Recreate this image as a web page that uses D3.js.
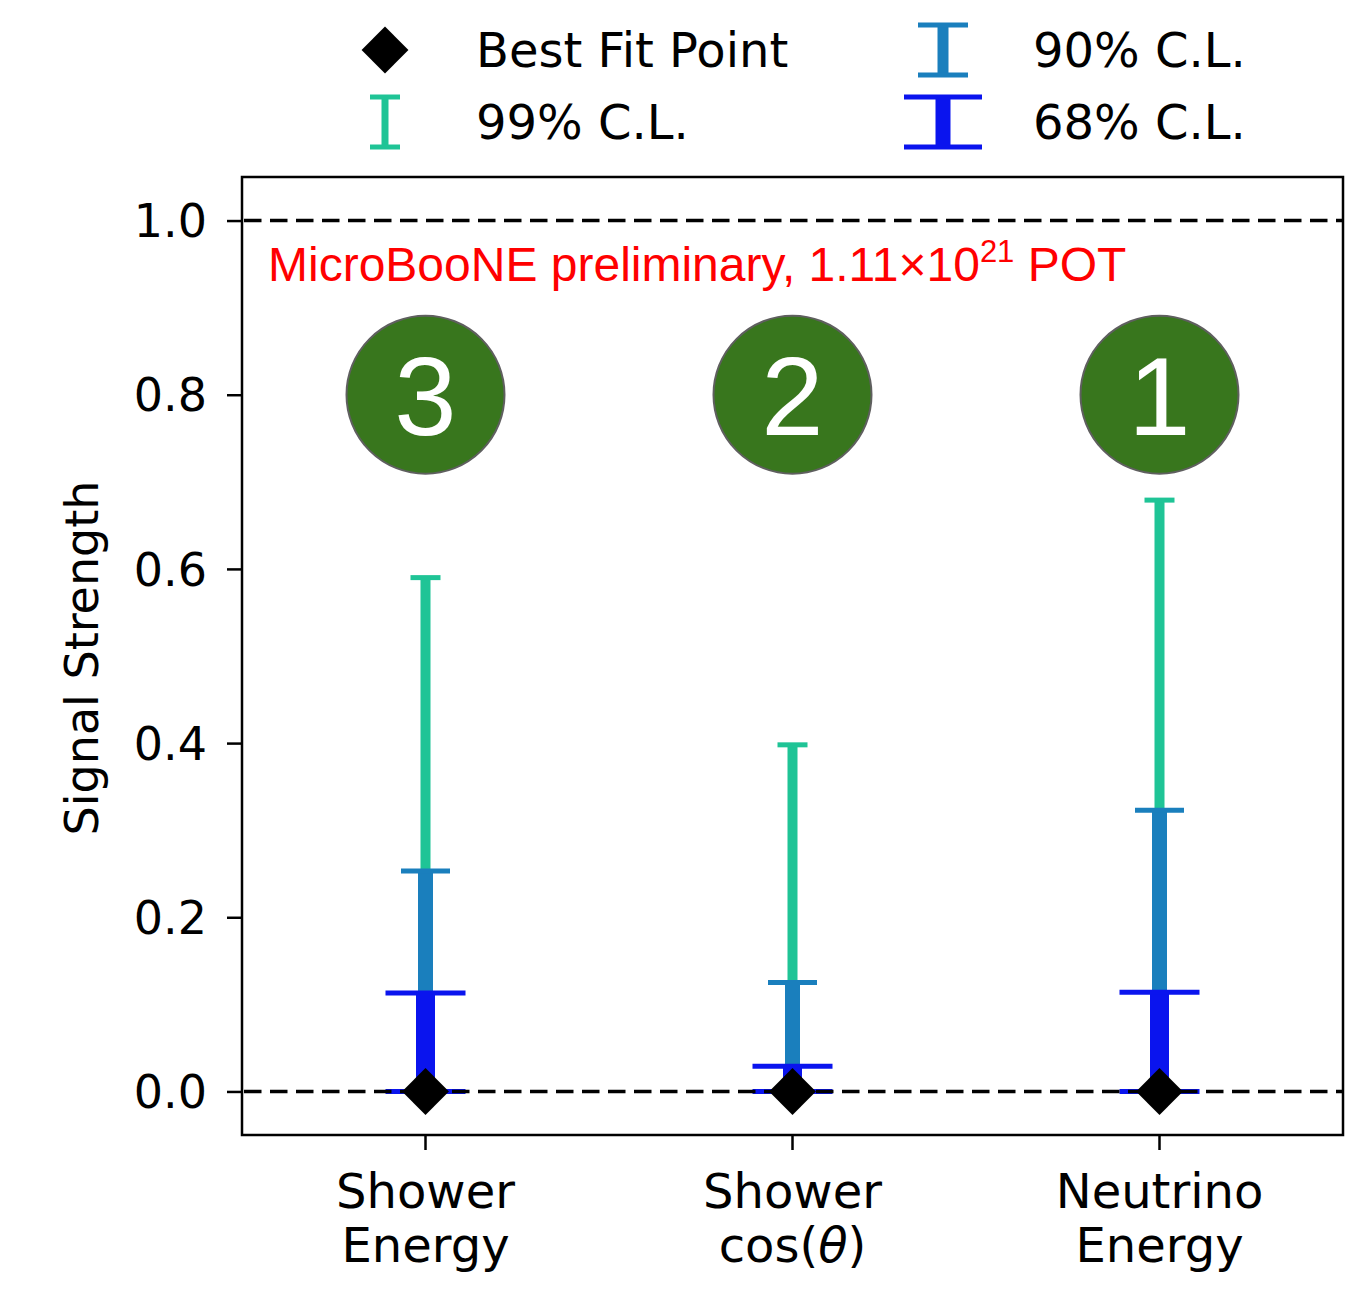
<!DOCTYPE html>
<html>
<head>
<meta charset="utf-8">
<script src="https://cdn.jsdelivr.net/npm/d3@7"></script>
<style>
  html, body { margin: 0; padding: 0; background: #ffffff; }
  svg { display: block; }
  .axis text { font-family: "DejaVu Sans", sans-serif; fill: #000; }
</style>
</head>
<body>
<svg id="chart" width="1372" height="1294"></svg>
<script>
// Signal strength limits per analysis variable
const categories = ["Shower Energy", "Shower cos(θ)", "Neutrino Energy"];
const tickLines = [["Shower", "Energy"], ["Shower", "cos(θ)"], ["Neutrino", "Energy"]];
const rankLabels = ["3", "2", "1"];
const bestFit = [0, 0, 0];
const lower = [0, 0, 0];
const cl99High = [0.590, 0.398, 0.679];
const cl90High = [0.253, 0.125, 0.323];
const cl68High = [0.113, 0.029, 0.114];
const yTicks = [0.0, 0.2, 0.4, 0.6, 0.8, 1.0];
const refLines = [0, 1];
const badgeLevel = 0.8;

const colors = { cl99: "#1fc496", cl90: "#1a7fbd", cl68: "#0a14ee" };

const svg = d3.select("#chart");
const plot = { left: 242, right: 1343, top: 177, bottom: 1135 };

const x = d3.scaleBand().domain(categories).range([plot.left, plot.right]).padding(0);
const cx = c => x(c) + x.bandwidth() / 2;
const y = d3.scaleLinear().domain([-0.05, 1.05]).range([plot.bottom, plot.top]);

// Axes
const yAxis = svg.append("g")
  .attr("class", "axis")
  .attr("transform", `translate(${plot.left},0)`)
  .call(d3.axisLeft(y).tickValues(yTicks).tickFormat(d3.format(".1f")).tickSize(15).tickPadding(20));
yAxis.select(".domain").remove();
yAxis.selectAll(".tick line").attr("stroke", "#000").attr("stroke-width", 2.5);
yAxis.selectAll(".tick text").attr("font-size", 46).attr("dy", "0.35em");

const xAxis = svg.append("g")
  .attr("class", "axis")
  .attr("transform", `translate(0,${plot.bottom})`)
  .call(d3.axisBottom(x).tickSize(15).tickFormat(""));
xAxis.select(".domain").remove();
xAxis.selectAll(".tick line").attr("stroke", "#000").attr("stroke-width", 2.5);
xAxis.selectAll(".tick").each(function (d, i) {
  const t = d3.select(this).append("text")
    .attr("text-anchor", "middle")
    .attr("font-size", 48)
    .attr("fill", "#000");
  tickLines[i].forEach((line, j) => {
    const ts = t.append("tspan").attr("x", 0).attr("y", 73 + j * 54);
    if (line.includes("θ")) {
      const parts = line.split("θ");
      ts.append("tspan").text(parts[0]);
      ts.append("tspan").attr("font-style", "italic").text("θ");
      ts.append("tspan").text(parts[1]);
    } else {
      ts.text(line);
    }
  });
});

// Axis title
svg.append("text")
  .attr("transform", `translate(98,${(plot.top + plot.bottom) / 2 + 2}) rotate(-90)`)
  .attr("text-anchor", "middle")
  .attr("font-family", "DejaVu Sans, sans-serif")
  .attr("font-size", 46)
  .attr("fill", "#000")
  .text("Signal Strength");

// Error bars: widest band underneath, innermost band on top
const bands = [
  { key: "cl99", high: cl99High, width: 10, cap: 30 },
  { key: "cl90", high: cl90High, width: 15, cap: 49 },
  { key: "cl68", high: cl68High, width: 19, cap: 80 }
];
const bars = svg.append("g");
bands.forEach(b => {
  const g = bars.append("g").attr("stroke", colors[b.key]);
  g.selectAll("line.stem").data(categories).join("line")
    .attr("class", "stem")
    .attr("x1", cx).attr("x2", cx)
    .attr("y1", (c, i) => y(lower[i])).attr("y2", (c, i) => y(b.high[i]))
    .attr("stroke-width", b.width);
  g.selectAll("line.capHi").data(categories).join("line")
    .attr("class", "capHi")
    .attr("x1", c => cx(c) - b.cap / 2).attr("x2", c => cx(c) + b.cap / 2)
    .attr("y1", (c, i) => y(b.high[i])).attr("y2", (c, i) => y(b.high[i]))
    .attr("stroke-width", 5);
  g.selectAll("line.capLo").data(categories).join("line")
    .attr("class", "capLo")
    .attr("x1", c => cx(c) - b.cap / 2).attr("x2", c => cx(c) + b.cap / 2)
    .attr("y1", (c, i) => y(lower[i])).attr("y2", (c, i) => y(lower[i]))
    .attr("stroke-width", 5);
});

// Reference lines at 0 and 1
svg.append("g").selectAll("line").data(refLines).join("line")
  .attr("x1", plot.left + 2).attr("x2", plot.right)
  .attr("y1", d => y(d)).attr("y2", d => y(d))
  .attr("stroke", "#000").attr("stroke-width", 3.5)
  .attr("stroke-dasharray", "17.5,8.5");

// Best fit diamonds
const diamond = d3.symbol().type(d3.symbolDiamond2).size(1400);
svg.append("g").selectAll("path").data(categories).join("path")
  .attr("transform", (c, i) => `translate(${cx(c)},${y(bestFit[i])})`)
  .attr("d", diamond)
  .attr("fill", "#000");

// Frame
svg.append("rect")
  .attr("x", plot.left).attr("y", plot.top)
  .attr("width", plot.right - plot.left).attr("height", plot.bottom - plot.top)
  .attr("fill", "none").attr("stroke", "#000").attr("stroke-width", 2.5);

// Annotation
const note = svg.append("text")
  .attr("x", 268).attr("y", 281)
  .attr("font-family", "Liberation Sans, Arial, sans-serif")
  .attr("font-size", 48)
  .attr("fill", "#ff0000");
note.append("tspan").text("MicroBooNE preliminary, 1.11×10");
note.append("tspan").attr("font-size", 31).attr("dy", -19).text("21");
note.append("tspan").attr("dy", 19).text(" POT");
// stretch slightly to the measured run of the line
const noteLen = note.node().getComputedTextLength();
if (noteLen < 857) note.attr("textLength", 857).attr("lengthAdjust", "spacing");

// Ranking badges
const badges = svg.append("g");
badges.selectAll("circle").data(categories).join("circle")
  .attr("cx", cx).attr("cy", y(badgeLevel)).attr("r", 79)
  .attr("fill", "#38761d").attr("stroke", "#5f5f5f").attr("stroke-width", 2);
badges.selectAll("text").data(categories).join("text")
  .attr("x", cx).attr("y", y(badgeLevel) + 40)
  .attr("text-anchor", "middle")
  .attr("font-family", "Liberation Sans, Arial, sans-serif")
  .attr("font-size", 112)
  .attr("fill", "#ffffff")
  .text((c, i) => rankLabels[i]);

// Legend
const legend = svg.append("g").attr("font-family", "DejaVu Sans, sans-serif").attr("font-size", 48).attr("fill", "#000");
const legendItems = [
  { label: "Best Fit Point", mx: 385, my: 50, tx: 476, kind: "diamond" },
  { label: "99% C.L.", mx: 385, my: 122, tx: 476, kind: "cl99", width: 7, cap: 30, half: 25 },
  { label: "90% C.L.", mx: 943, my: 50, tx: 1033, kind: "cl90", width: 11, cap: 50, half: 25 },
  { label: "68% C.L.", mx: 943, my: 122, tx: 1033, kind: "cl68", width: 15, cap: 78, half: 25 }
];
legendItems.forEach(it => {
  if (it.kind === "diamond") {
    legend.append("path")
      .attr("transform", `translate(${it.mx},${it.my})`)
      .attr("d", diamond).attr("fill", "#000");
  } else {
    const g = legend.append("g").attr("stroke", colors[it.kind]);
    g.append("line").attr("x1", it.mx).attr("x2", it.mx)
      .attr("y1", it.my - it.half).attr("y2", it.my + it.half).attr("stroke-width", it.width);
    [-it.half, it.half].forEach(o => {
      g.append("line").attr("x1", it.mx - it.cap / 2).attr("x2", it.mx + it.cap / 2)
        .attr("y1", it.my + o).attr("y2", it.my + o).attr("stroke-width", 5);
    });
  }
  legend.append("text").attr("x", it.tx).attr("y", it.my + 17).text(it.label);
});
</script>
</body>
</html>
